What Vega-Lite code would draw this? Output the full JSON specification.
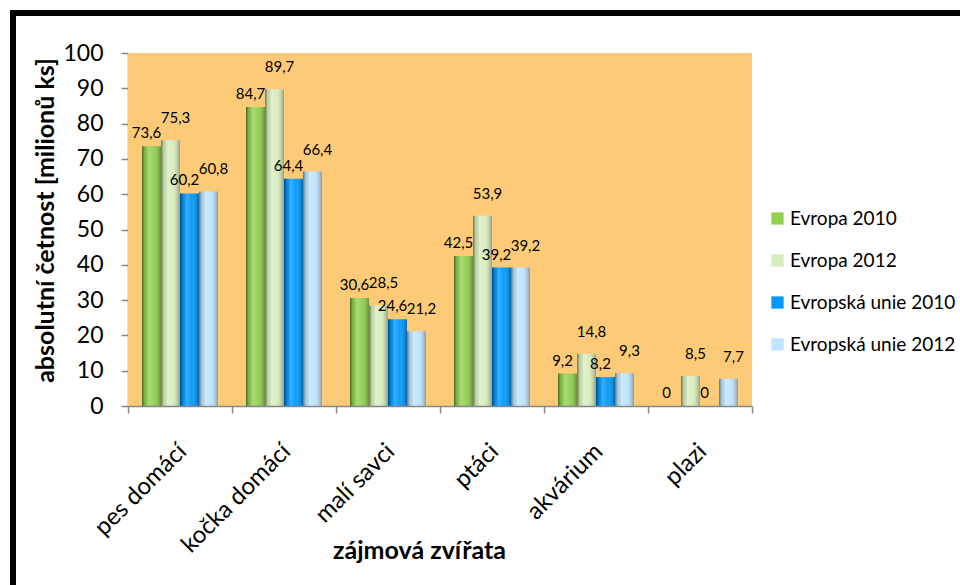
{
  "$schema": "https://vega.github.io/schema/vega-lite/v6.json",
  "width": 957,
  "height": 582,
  "autosize": {"type": "none"},
  "padding": {"left": 13, "top": 13, "right": -10, "bottom": -10},
  "background": "white",
  "config": {
    "view": {"stroke": "black", "strokeWidth": 6, "fill": "white"},
    "font": "Lato",
    "locale": {"number": {"decimal": ",", "thousands": " ", "grouping": [3], "currency": ["", " Kč"]}},
    "axis": {
      "domainColor": "#868686",
      "domainWidth": 1.5,
      "tickColor": "#868686",
      "tickWidth": 1.5,
      "labelColor": "black",
      "titleColor": "black",
      "grid": false
    }
  },
  "data": {
    "values": [
      {"kategorie": "pes domácí", "serie": "Evropa 2010", "hodnota": 73.6},
      {"kategorie": "pes domácí", "serie": "Evropa 2012", "hodnota": 75.3},
      {"kategorie": "pes domácí", "serie": "Evropská unie 2010", "hodnota": 60.2},
      {"kategorie": "pes domácí", "serie": "Evropská unie 2012", "hodnota": 60.8},
      {"kategorie": "kočka domácí", "serie": "Evropa 2010", "hodnota": 84.7},
      {"kategorie": "kočka domácí", "serie": "Evropa 2012", "hodnota": 89.7},
      {"kategorie": "kočka domácí", "serie": "Evropská unie 2010", "hodnota": 64.4},
      {"kategorie": "kočka domácí", "serie": "Evropská unie 2012", "hodnota": 66.4},
      {"kategorie": "malí savci", "serie": "Evropa 2010", "hodnota": 30.6},
      {"kategorie": "malí savci", "serie": "Evropa 2012", "hodnota": 28.5},
      {"kategorie": "malí savci", "serie": "Evropská unie 2010", "hodnota": 24.6},
      {"kategorie": "malí savci", "serie": "Evropská unie 2012", "hodnota": 21.2},
      {"kategorie": "ptáci", "serie": "Evropa 2010", "hodnota": 42.5},
      {"kategorie": "ptáci", "serie": "Evropa 2012", "hodnota": 53.9},
      {"kategorie": "ptáci", "serie": "Evropská unie 2010", "hodnota": 39.2},
      {"kategorie": "ptáci", "serie": "Evropská unie 2012", "hodnota": 39.2},
      {"kategorie": "akvárium", "serie": "Evropa 2010", "hodnota": 9.2},
      {"kategorie": "akvárium", "serie": "Evropa 2012", "hodnota": 14.8},
      {"kategorie": "akvárium", "serie": "Evropská unie 2010", "hodnota": 8.2},
      {"kategorie": "akvárium", "serie": "Evropská unie 2012", "hodnota": 9.3},
      {"kategorie": "plazi", "serie": "Evropa 2010", "hodnota": 0},
      {"kategorie": "plazi", "serie": "Evropa 2012", "hodnota": 8.5},
      {"kategorie": "plazi", "serie": "Evropská unie 2010", "hodnota": 0},
      {"kategorie": "plazi", "serie": "Evropská unie 2012", "hodnota": 7.7}
    ]
  },
  "encoding": {
    "x": {
      "field": "kategorie",
      "type": "nominal",
      "sort": ["pes domácí", "kočka domácí", "malí savci", "ptáci", "akvárium", "plazi"],
      "scale": {"range": [115, 739], "paddingInner": 0, "paddingOuter": 0},
      "title": "zájmová zvířata",
      "axis": {
        "tickBand": "extent",
        "tickSize": 7,
        "labelAngle": -45,
        "labelAlign": "right",
        "labelBaseline": "top",
        "labelPadding": 26,
        "labelOffset": -6,
        "labelFontSize": 24,
        "titleFontSize": 25,
        "titleFontWeight": "bold",
        "titleX": 406,
        "titleY": 144,
        "titleBaseline": "middle",
        "offset": -189
      }
    },
    "y": {
      "field": "hodnota",
      "type": "quantitative",
      "scale": {"domain": [0, 100], "range": [393, 40], "nice": false},
      "title": "absolutní četnost [milionů ks]",
      "axis": {
        "values": [0, 10, 20, 30, 40, 50, 60, 70, 80, 90, 100],
        "tickSize": 7,
        "labelPadding": 18,
        "labelFontSize": 23,
        "titleFontSize": 25,
        "titleFontWeight": "bold",
        "titleX": -83,
        "titleY": 207,
        "titleBaseline": "middle",
        "offset": -115
      }
    }
  },
  "layer": [
    {
      "mark": {"type": "rect", "color": "#FDCB78"},
      "encoding": {
        "y": {"datum": 0, "type": "quantitative"},
        "y2": {"datum": 100}
      }
    },
    {
      "mark": {"type": "bar"},
      "encoding": {
        "xOffset": {
          "field": "serie",
          "type": "nominal",
          "sort": ["Evropa 2010", "Evropa 2012", "Evropská unie 2010", "Evropská unie 2012"],
          "scale": {"paddingInner": 0, "paddingOuter": 0.74}
        },
        "color": {
          "field": "serie",
          "type": "nominal",
          "scale": {
            "domain": ["Evropa 2010", "Evropa 2012", "Evropská unie 2010", "Evropská unie 2012"],
            "range": ["#92D050", "#D7EDBE", "#0099FF", "#BFE4FF"]
          },
          "legend": {
            "title": null,
            "orient": "none",
            "legendX": 755,
            "legendY": 196,
            "symbolType": "square",
            "symbolSize": 150,
            "symbolStrokeWidth": 0,
            "labelFontSize": 19,
            "labelLimit": 0,
            "labelColor": "black",
            "labelOffset": 3,
            "rowPadding": 22
          }
        }
      }
    },
    {
      "mark": {
        "type": "bar",
        "color": {
          "gradient": "linear",
          "x1": 0, "y1": 0, "x2": 1, "y2": 0,
          "stops": [
            {"offset": 0, "color": "rgba(0,0,0,0.5)"},
            {"offset": 0.15, "color": "rgba(0,0,0,0.1)"},
            {"offset": 0.35, "color": "rgba(255,255,255,0.22)"},
            {"offset": 0.6, "color": "rgba(255,255,255,0.05)"},
            {"offset": 1, "color": "rgba(0,0,0,0.32)"}
          ]
        }
      },
      "encoding": {
        "xOffset": {
          "field": "serie",
          "type": "nominal",
          "sort": ["Evropa 2010", "Evropa 2012", "Evropská unie 2010", "Evropská unie 2012"]
        }
      }
    },
    {
      "transform": [{"filter": {"field": "serie", "oneOf": ["Evropa 2010", "Evropská unie 2010"]}}],
      "mark": {"type": "text", "baseline": "bottom", "dy": -5, "dx": -5, "fontSize": 15, "color": "black"},
      "encoding": {
        "xOffset": {
          "field": "serie",
          "type": "nominal",
          "sort": ["Evropa 2010", "Evropa 2012", "Evropská unie 2010", "Evropská unie 2012"]
        },
        "text": {"field": "hodnota", "type": "quantitative", "format": "~g"}
      }
    },
    {
      "transform": [{"filter": {"field": "serie", "oneOf": ["Evropa 2012", "Evropská unie 2012"]}}],
      "mark": {"type": "text", "baseline": "bottom", "dy": -14, "dx": 5, "fontSize": 15, "color": "black"},
      "encoding": {
        "xOffset": {
          "field": "serie",
          "type": "nominal",
          "sort": ["Evropa 2010", "Evropa 2012", "Evropská unie 2010", "Evropská unie 2012"]
        },
        "text": {"field": "hodnota", "type": "quantitative", "format": "~g"}
      }
    }
  ]
}
